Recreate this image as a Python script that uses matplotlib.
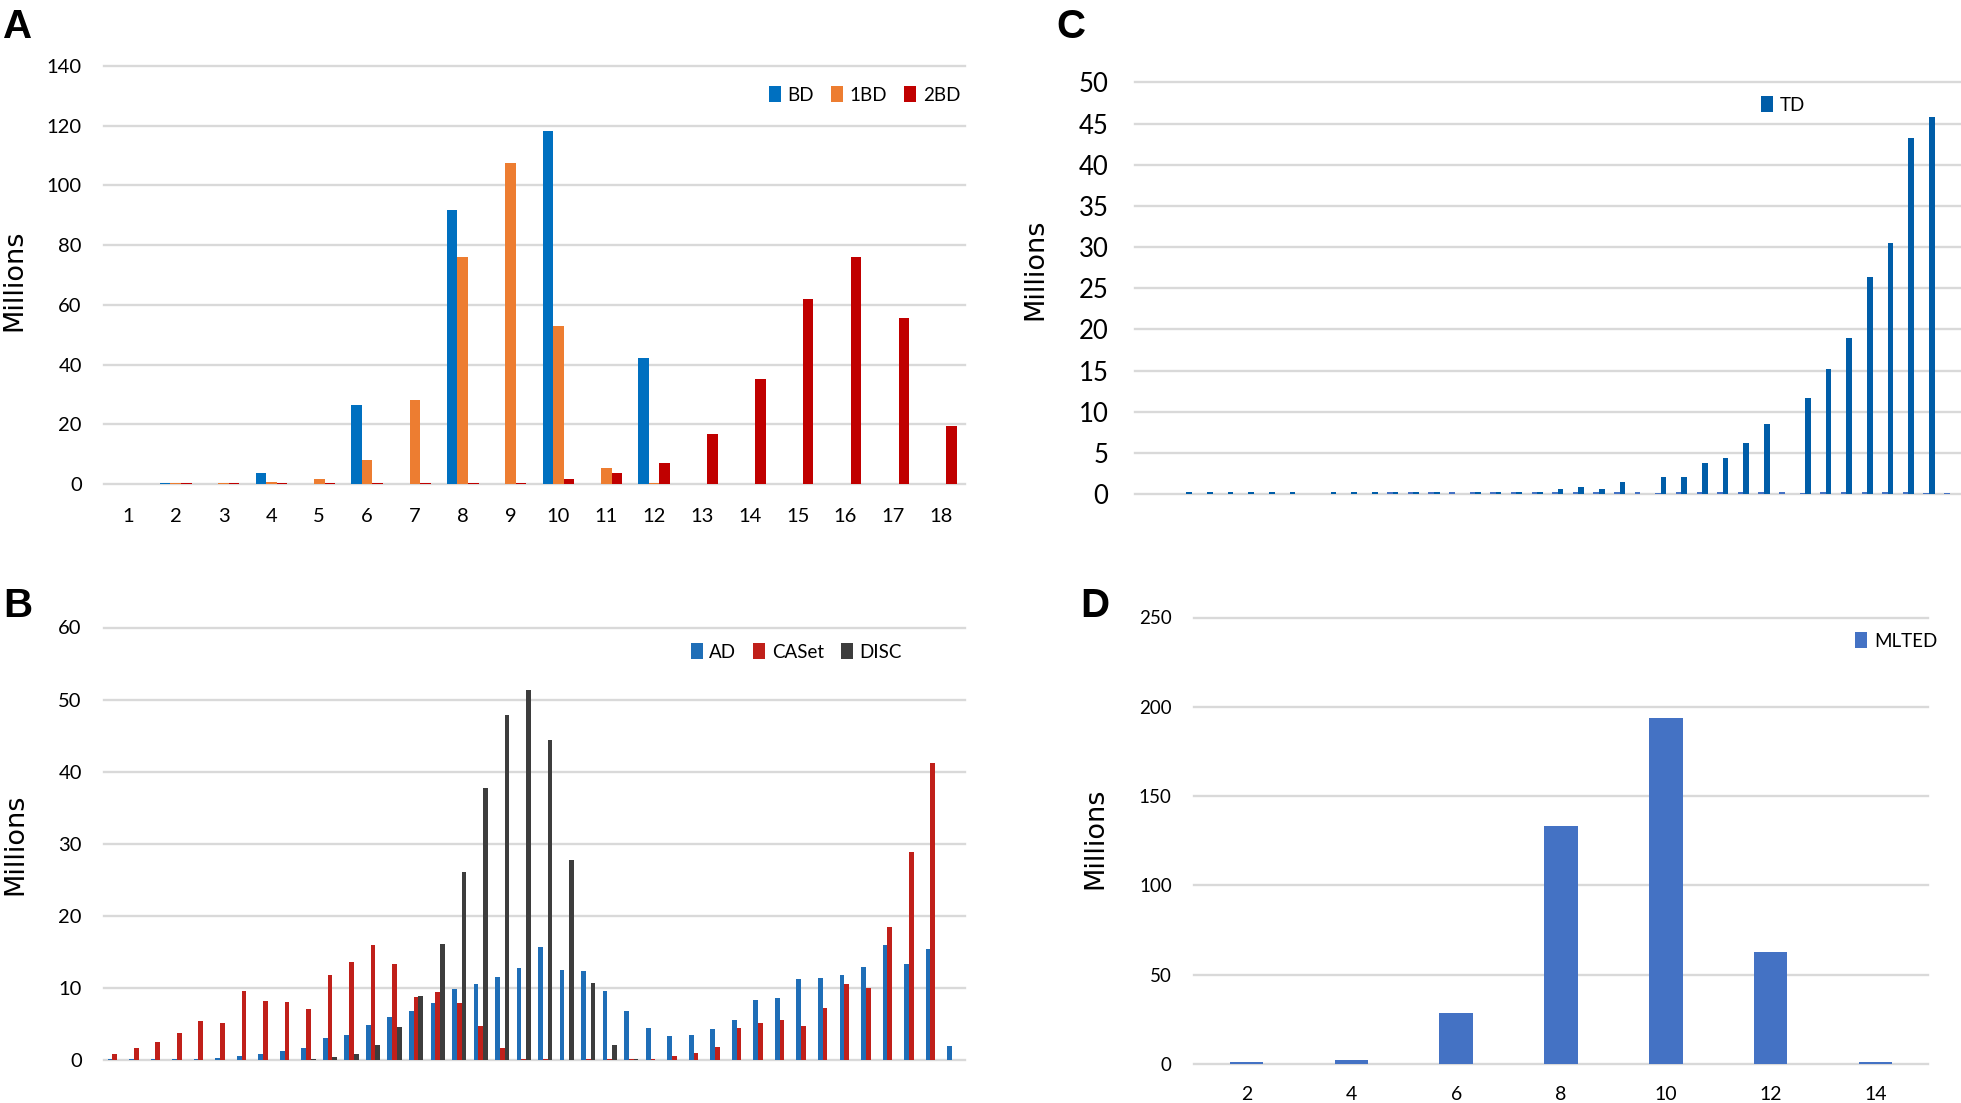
import matplotlib
matplotlib.use("Agg")
import matplotlib.pyplot as plt
import numpy as np

plt.rcParams['font.family'] = ['Lato', 'DejaVu Sans']

# ---------------- data ----------------
# Panel A
a_categories = list(range(1, 19))
a_bd  = [0, 0.5, 0, 3.6, 0, 26.5, 0, 91.8, 0, 118.2, 0, 42.3, 0, 0, 0, 0, 0, 0]
a_1bd = [0, 0.5, 0.5, 0.6, 1.8, 7.9, 28.3, 75.9, 107.6, 52.9, 5.4, 0.5, 0, 0, 0, 0, 0, 0]
a_2bd = [0, 0.5, 0.5, 0.5, 0.5, 0.5, 0.5, 0.5, 0.5, 1.8, 3.6, 7.1, 16.9, 35.3, 61.8, 75.9, 55.6, 19.5]

# Panel B (40 groups)
b_ad = [0.1, 0.1, 0.1, 0.1, 0.2, 0.3, 0.5, 0.8, 1.3, 1.7,
        3.0, 3.4, 4.9, 5.9, 6.8, 7.9, 9.8, 10.6, 11.5, 12.7,
        15.7, 12.5, 12.4, 9.6, 6.8, 4.5, 3.3, 3.5, 4.3, 5.5,
        8.3, 8.6, 11.3, 11.4, 11.8, 12.9, 15.9, 13.3, 15.4, 1.9]
b_caset = [0.9, 1.7, 2.5, 3.8, 5.4, 5.1, 9.6, 8.2, 8.1, 7.1,
           11.8, 13.6, 16.0, 13.3, 8.7, 9.4, 7.9, 4.7, 1.7, 0.1,
           0.1, 0.05, 0.1, 0.1, 0.2, 0.2, 0.5, 1.0, 1.8, 4.5,
           5.2, 5.5, 4.7, 7.2, 10.6, 10.0, 18.4, 28.9, 41.2, 0.05]
b_disc = [0, 0, 0, 0, 0, 0, 0, 0, 0, 0.1,
          0.4, 0.9, 2.1, 4.6, 8.9, 16.1, 26.1, 37.7, 47.9, 51.3,
          44.4, 27.7, 10.7, 2.1, 0.15, 0.05, 0, 0, 0, 0,
          0, 0, 0, 0, 0, 0, 0, 0, 0, 0]

# Panel C (40 groups)
c_td = [0, 0, 0.25, 0.25, 0.25, 0.25, 0.25, 0.2, 0, 0.25,
        0.25, 0.25, 0.25, 0.2, 0.2, 0, 0.25, 0.25, 0.25, 0.25,
        0.6, 0.9, 0.6, 1.5, 0, 2.1, 2.1, 3.8, 4.4, 6.2,
        8.5, 0, 11.7, 15.2, 19.0, 26.4, 30.5, 43.3, 45.8, 0]
c_other = [0, 0, 0, 0, 0, 0, 0, 0, 0, 0,
           0, 0, 0.2, 0.2, 0.2, 0.2, 0.2, 0.2, 0.2, 0.2,
           0.2, 0.2, 0.2, 0.2, 0.2, 0.12, 0.2, 0.2, 0.2, 0.2,
           0.2, 0.2, 0.12, 0.2, 0.2, 0.2, 0.2, 0.2, 0.12, 0.12]

# Panel D
d_categories = ['2', '4', '6', '8', '10', '12', '14']
d_mlted = [1.2, 2.1, 28.6, 133.4, 193.6, 62.6, 1.2]

# ---------------- figure ----------------
W, H = 1961, 1103
fig = plt.figure(figsize=(W / 100, H / 100), dpi=100)

GRID = '#D9D9D9'


def rect(x0, y0, x1, y1):
    return [x0 / W, 1 - y1 / H, (x1 - x0) / W, (y1 - y0) / H]


def style(ax, ylim, yticks, fs, pad):
    ax.set_ylim(*ylim)
    ax.set_yticks(yticks)
    ax.yaxis.grid(True, color=GRID, lw=1.7)
    ax.set_axisbelow(True)
    for s in ax.spines.values():
        s.set_visible(False)
    ax.tick_params(axis='both', length=0)
    ax.tick_params(axis='y', labelsize=fs, pad=pad)
    for gl in ax.get_ygridlines():
        gl.set_clip_on(False)


def legend(ax, x, y, fs=13.5, ncol=1):
    ax.legend(loc='center right', bbox_to_anchor=(x / W, 1 - y / H),
              bbox_transform=fig.transFigure, ncol=ncol, frameon=False,
              fontsize=fs, handlelength=0.65, handleheight=0.9,
              handletextpad=0.35, columnspacing=0.9, borderpad=0,
              borderaxespad=0)


# ---- Panel A ----
axA = fig.add_axes(rect(104, 66, 965, 484))
xa = np.arange(len(a_categories))
wa = 0.22
axA.bar(xa - wa, a_bd, wa, color='#0070C0', label='BD')
axA.bar(xa, a_1bd, wa, color='#ED7D31', label='1BD')
axA.bar(xa + wa, a_2bd, wa, color='#C00000', label='2BD')
axA.set_xlim(-0.5, len(a_categories) - 0.5)
axA.set_xticks(xa)
axA.set_xticklabels([str(c) for c in a_categories])
style(axA, (0, 140), range(0, 141, 20), 14.5, 16)
axA.tick_params(axis='x', labelsize=14.5, pad=17)
legend(axA, 960, 95, ncol=3)

# ---- Panel B ----
axB = fig.add_axes(rect(104, 627.5, 965, 1060))
xb = np.arange(len(b_ad))
wb = 0.22
axB.bar(xb - wb, b_ad, wb, color='#1F6EB7', label='AD')
axB.bar(xb, b_caset, wb, color='#C0201A', label='CASet')
axB.bar(xb + wb, b_disc, wb, color='#3D3D3D', label='DISC')
axB.set_xlim(-0.5, len(b_ad) - 0.5)
axB.set_xticks([])
style(axB, (0, 60), range(0, 61, 10), 14.5, 16)
legend(axB, 902, 652, ncol=3)

# ---- Panel C ----
axC = fig.add_axes(rect(1135, 82.5, 1960, 494))
xc = np.arange(len(c_td))
wc = 0.27
axC.bar(xc - 0.14, c_other, wc, color='#4472C4', label='_nolegend_')
axC.bar(xc + 0.13, c_td, wc, color='#005DA8', label='TD')
axC.set_xlim(-0.5, len(c_td) - 0.5)
axC.set_xticks([])
style(axC, (0, 50), range(0, 51, 5), 18.5, 19)
legend(axC, 1805, 105)

# ---- Panel D ----
axD = fig.add_axes(rect(1194, 617.5, 1928, 1064))
xd = np.arange(len(d_categories))
axD.bar(xd, d_mlted, 0.32, color='#4472C4', label='MLTED')
axD.set_xlim(-0.5, len(d_categories) - 0.5)
axD.set_xticks(xd)
axD.set_xticklabels(d_categories)
style(axD, (0, 250), range(0, 251, 50), 13.5, 16)
axD.tick_params(axis='x', labelsize=14, pad=16)
legend(axD, 1937, 641)

# ---- panel letters and axis titles ----
for letter, x, yb in [('A', 3, 38), ('B', 3, 617), ('C', 1056, 38), ('D', 1080, 617)]:
    fig.text(x / W, 1 - yb / H, letter, fontsize=29, fontweight='bold',
             family=['Liberation Sans', 'DejaVu Sans'], ha='left', va='baseline')

for x, y in [(14, 280), (15, 844), (1035, 269), (1095, 838)]:
    fig.text(x / W, 1 - y / H, 'Millions', fontsize=19.5, rotation=90,
             family=['DejaVu Sans'], ha='center', va='center')

fig.savefig('out.png', dpi=100)
